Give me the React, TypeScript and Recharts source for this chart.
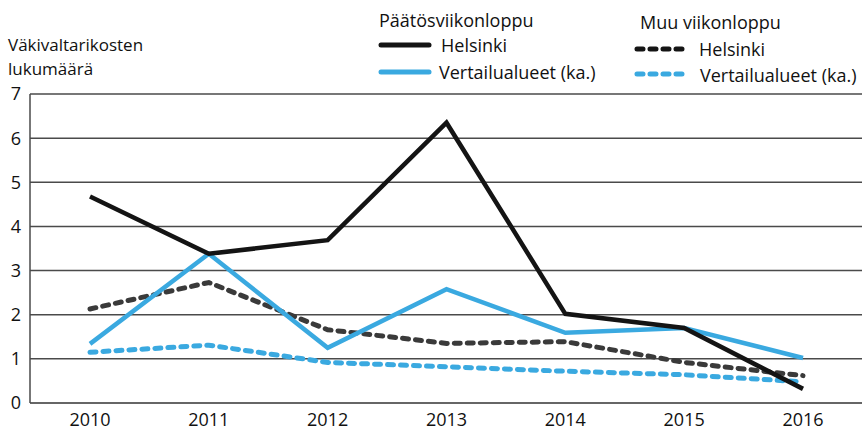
import { LineChart, Line, XAxis, YAxis, CartesianGrid } from 'recharts';

const years = ['2010', '2011', '2012', '2013', '2014', '2015', '2016'];
const yTicks = [0, 1, 2, 3, 4, 5, 6, 7];

// Päätösviikonloppu
const paatosHelsinki = [4.68, 3.38, 3.69, 6.35, 2.02, 1.7, 0.32];
const paatosVertailu = [1.34, 3.38, 1.25, 2.58, 1.59, 1.7, 1.02];
// Muu viikonloppu
const muuHelsinki = [2.13, 2.73, 1.66, 1.35, 1.39, 0.92, 0.62];
const muuVertailu = [1.15, 1.31, 0.92, 0.82, 0.72, 0.64, 0.48];

const data = years.map((year, i) => ({
  year,
  paatosHelsinki: paatosHelsinki[i],
  paatosVertailu: paatosVertailu[i],
  muuHelsinki: muuHelsinki[i],
  muuVertailu: muuVertailu[i],
}));

const BLACK = '#141414';
const BLUE = '#3aa9e0';
const DARK = '#3a3a3a';
const GRID = '#4a4a4a';
const FONT = '"Open Sans", sans-serif';

const textStyle = { position: 'absolute' as const, fontSize: 18, lineHeight: '21px', color: '#111', whiteSpace: 'nowrap' as const };

function Sample({ color, dashed }: { color: string; dashed?: boolean }) {
  return (
    <svg width={54} height={8} style={{ display: 'block' }}>
      <line
        x1={3}
        y1={4}
        x2={dashed ? 48 : 51}
        y2={4}
        stroke={color}
        strokeWidth={5}
        strokeLinecap="round"
        strokeDasharray={dashed ? '6 7' : undefined}
      />
    </svg>
  );
}

function ChartLegend() {
  return (
    <>
      <div style={{ ...textStyle, left: 379, top: 10 }}>Päätösviikonloppu</div>
      <div style={{ position: 'absolute', left: 378, top: 41 }}><Sample color={BLACK} /></div>
      <div style={{ ...textStyle, left: 441, top: 35 }}>Helsinki</div>
      <div style={{ position: 'absolute', left: 378, top: 68 }}><Sample color={BLUE} /></div>
      <div style={{ ...textStyle, left: 439, top: 62 }}>Vertailualueet (ka.)</div>

      <div style={{ ...textStyle, left: 640, top: 12 }}>Muu viikonloppu</div>
      <div style={{ position: 'absolute', left: 634, top: 45 }}><Sample color={BLACK} dashed /></div>
      <div style={{ ...textStyle, left: 699, top: 39 }}>Helsinki</div>
      <div style={{ position: 'absolute', left: 634, top: 70 }}><Sample color={BLUE} dashed /></div>
      <div style={{ ...textStyle, left: 700, top: 65 }}>Vertailualueet (ka.)</div>
    </>
  );
}

export default function App() {
  return (
    <div style={{ position: 'absolute', left: 0, top: 0, width: 864, height: 430, background: '#fff', fontFamily: FONT }}>
      <div style={{ ...textStyle, fontSize: 17, left: 8, top: 34 }}>Väkivaltarikosten</div>
      <div style={{ ...textStyle, fontSize: 17, left: 8, top: 58 }}>lukumäärä</div>
      <ChartLegend />
      <LineChart width={864} height={430} data={data} margin={{ top: 94, right: 2, bottom: 0, left: 0 }}>
        <CartesianGrid vertical={false} stroke={GRID} strokeWidth={1.5} />
        <XAxis
          dataKey="year"
          padding={{ left: 60, right: 59 }}
          height={27}
          tickLine={false}
          tickSize={0}
          tickMargin={10}
          axisLine={{ stroke: '#666', strokeWidth: 2 }}
          tick={{ fill: '#111', fontSize: 18 }}
        />
        <YAxis
          domain={[0, 7]}
          ticks={yTicks}
          width={30}
          tickLine={false}
          tickSize={0}
          tickMargin={9}
          axisLine={{ stroke: GRID, strokeWidth: 1.5 }}
          tick={{ fill: '#111', fontSize: 18 }}
        />
        <YAxis
          yAxisId="right"
          orientation="right"
          domain={[0, 7]}
          width={0}
          tick={false}
          tickLine={false}
          axisLine={{ stroke: GRID, strokeWidth: 1.5 }}
        />
        <Line
          name="Muu viikonloppu – Vertailualueet (ka.)"
          dataKey="muuVertailu"
          stroke={BLUE}
          strokeWidth={5}
          strokeDasharray="6 7"
          strokeLinecap="round"
          dot={false}
          isAnimationActive={false}
        />
        <Line
          name="Muu viikonloppu – Helsinki"
          dataKey="muuHelsinki"
          stroke={DARK}
          strokeWidth={5}
          strokeDasharray="6 7"
          strokeLinecap="round"
          dot={false}
          isAnimationActive={false}
        />
        <Line
          name="Päätösviikonloppu – Vertailualueet (ka.)"
          dataKey="paatosVertailu"
          stroke={BLUE}
          strokeWidth={4.5}
          dot={false}
          isAnimationActive={false}
        />
        <Line
          name="Päätösviikonloppu – Helsinki"
          dataKey="paatosHelsinki"
          stroke={BLACK}
          strokeWidth={4.5}
          dot={false}
          isAnimationActive={false}
        />
      </LineChart>
    </div>
  );
}
